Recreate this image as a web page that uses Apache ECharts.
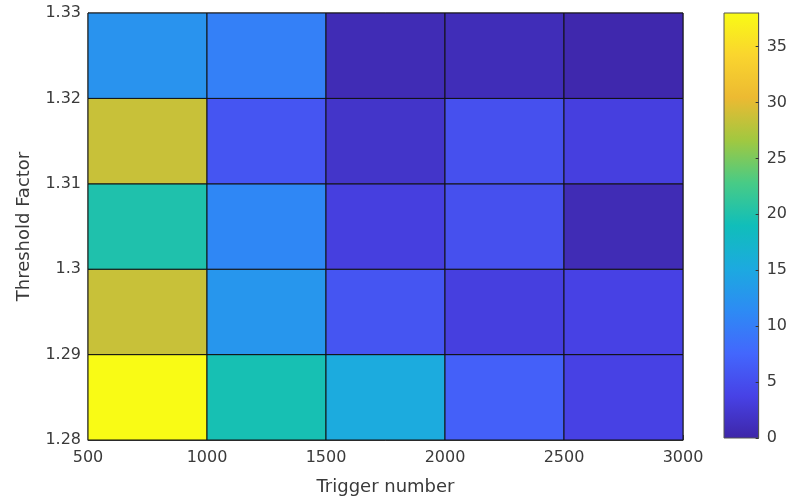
<!DOCTYPE html>
<html>
<head>
<meta charset="utf-8">
<script src="https://cdn.jsdelivr.net/npm/echarts@6/dist/echarts.min.js"></script>
<style>html,body{margin:0;padding:0;background:#fff;}#chart{width:790px;height:502px;}</style>
</head>
<body>
<div id="chart"></div>
<script>
// ---- data ----
const xEdges = [500, 1000, 1500, 2000, 2500, 3000];
const yEdges = [1.28, 1.29, 1.30, 1.31, 1.32, 1.33];
// rows bottom -> top (y 1.28-1.29 first), columns left -> right
const row128 = [38.0, 19.5, 15.3, 6.9, 3.7];
const row129 = [28.6, 12.7, 5.7, 3.4, 3.7];
const row130 = [20.0, 11.0, 3.4, 5.2, 0.8];
const row131 = [28.6, 5.7, 2.0, 5.2, 3.4];
const row132 = [12.4, 10.2, 0.8, 1.0, 0.3];
const rows = [row128, row129, row130, row131, row132];
const cbMin = 0, cbMax = 38;
const cbTicks = [0, 5, 10, 15, 20, 25, 30, 35];
const xTicks = [500, 1000, 1500, 2000, 2500, 3000];
const yTicks = [1.28, 1.29, 1.3, 1.31, 1.32, 1.33];
const xTitle = 'Trigger number';
const yTitle = 'Threshold Factor';
// parula colormap stops
const parula = ['#3E26A8', '#4742E6', '#4367FD', '#2D8BF4', '#1CAADF', '#10BEBA',
                '#48CB86', '#A1C840', '#ECBA32', '#FAD52E', '#F9FB15'];

const cells = [];
for (let i = 0; i < rows.length; i++) {
  for (let j = 0; j < rows[i].length; j++) {
    cells.push([xEdges[j], yEdges[i], xEdges[j + 1], yEdges[i + 1], rows[i][j]]);
  }
}

const font = 'DejaVu Sans';
const txt = '#3a3a3a';

const chart = echarts.init(document.getElementById('chart'), null, {renderer: 'canvas'});
chart.setOption({
  backgroundColor: '#fff',
  animation: false,
  grid: [
    {left: 88, top: 13, width: 595, height: 427, show: true, borderColor: '#444', borderWidth: 1, backgroundColor: 'transparent'},
    {left: 724, top: 13, width: 36, height: 425, show: false}
  ],
  xAxis: [
    {
      gridIndex: 0, type: 'value', min: 500, max: 3000, interval: 500,
      name: xTitle, nameLocation: 'middle', nameGap: 38,
      nameTextStyle: {fontFamily: font, fontSize: 18, color: txt},
      axisLine: {show: true, onZero: false, lineStyle: {color: '#444'}},
      axisTick: {show: true, inside: true, length: 5, lineStyle: {color: '#444'}},
      axisLabel: {fontFamily: font, fontSize: 16, color: txt, margin: 10,
                  customValues: xTicks, formatter: v => String(v)},
      splitLine: {show: false}
    },
    {
      gridIndex: 1, type: 'value', min: 0, max: 1, show: false,
      axisLine: {onZero: false}
    }
  ],
  yAxis: [
    {
      gridIndex: 0, type: 'value', min: 1.28, max: 1.33, interval: 0.01,
      name: yTitle, nameLocation: 'middle', nameGap: 55, nameRotate: 90,
      nameTextStyle: {fontFamily: font, fontSize: 18, color: txt},
      axisLine: {show: true, onZero: false, lineStyle: {color: '#444'}},
      axisTick: {show: true, inside: true, length: 5, lineStyle: {color: '#444'}},
      axisLabel: {fontFamily: font, fontSize: 16, color: txt, margin: 7,
                  customValues: yTicks, formatter: v => String(Math.round(v * 100) / 100)},
      splitLine: {show: false}
    },
    {
      gridIndex: 1, type: 'value', min: cbMin, max: cbMax, position: 'right', z: 5,
      axisLine: {show: true, onZero: false, lineStyle: {color: '#555'}},
      axisTick: {show: true, inside: true, length: 3, lineStyle: {color: '#333'}, customValues: cbTicks},
      axisLabel: {fontFamily: font, fontSize: 16, color: txt, margin: 8, customValues: cbTicks},
      splitLine: {show: false}
    }
  ],
  visualMap: {
    type: 'continuous', show: false, min: cbMin, max: cbMax, dimension: 4, seriesIndex: 0,
    inRange: {color: parula}
  },
  series: [
    {
      type: 'custom', xAxisIndex: 0, yAxisIndex: 0,
      data: cells,
      renderItem: function (params, api) {
        const p0 = api.coord([api.value(0), api.value(3)]);
        const p1 = api.coord([api.value(2), api.value(1)]);
        return {
          type: 'rect',
          shape: {x: p0[0], y: p0[1], width: p1[0] - p0[0], height: p1[1] - p0[1]},
          style: {fill: api.visual('color'), stroke: '#111', lineWidth: 1}
        };
      }
    },
    {
      type: 'custom', xAxisIndex: 1, yAxisIndex: 1, z: 1,
      data: [[0, cbMin, 1, cbMax]],
      renderItem: function (params, api) {
        const p0 = api.coord([api.value(0), api.value(3)]);
        const p1 = api.coord([api.value(2), api.value(1)]);
        return {
          type: 'rect',
          shape: {x: p0[0], y: p0[1], width: p1[0] - p0[0], height: p1[1] - p0[1]},
          style: {
            fill: {
              type: 'linear', x: 0, y: 1, x2: 0, y2: 0,
              colorStops: parula.map((c, k) => ({offset: k / (parula.length - 1), color: c}))
            },
            stroke: '#555', lineWidth: 1
          }
        };
      }
    }
  ]
});
</script>
</body>
</html>
